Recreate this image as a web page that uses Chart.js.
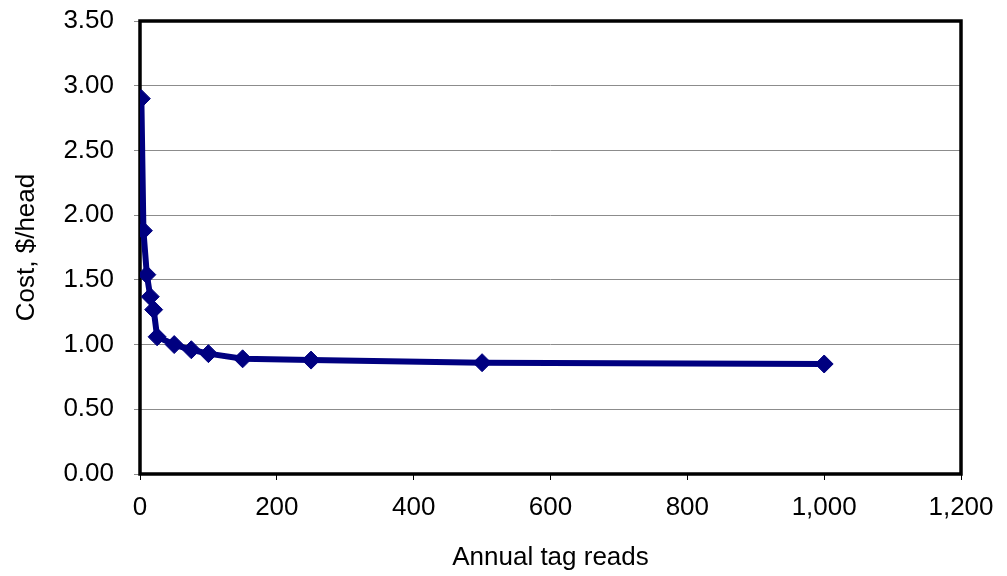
<!DOCTYPE html>
<html>
<head>
<meta charset="utf-8">
<script src="https://cdn.jsdelivr.net/npm/chart.js@4/dist/chart.umd.min.js"></script>
<style>
html,body{margin:0;padding:0;background:#fff;}
#wrap{width:1007px;height:576px;position:relative;}
</style>
</head>
<body>
<div id="wrap"><canvas id="c" width="1007" height="576"></canvas></div>
<script>
const reads = [2, 5, 10, 15, 20, 25, 50, 75, 100, 150, 250, 500, 1000];
const cost = [2.90, 1.88, 1.54, 1.37, 1.27, 1.06, 1.00, 0.96, 0.93, 0.89, 0.88, 0.86, 0.85];
const xTitle = 'Annual tag reads';
const yTitle = 'Cost, $/head';

const FONT = 'Liberation Sans, Arial, sans-serif';

const borderPlugin = {
  id: 'plotBorder',
  beforeDatasetsDraw(chart) {
    const {ctx, chartArea: a} = chart;
    ctx.save();
    ctx.strokeStyle = '#000';
    ctx.lineWidth = 3.5;
    ctx.strokeRect(a.left, a.top, a.right - a.left, a.bottom - a.top);
    ctx.restore();
  }
};

new Chart(document.getElementById('c'), {
  type: 'line',
  data: {
    datasets: [{
      data: reads.map((x, i) => ({x: x, y: cost[i]})),
      borderColor: '#000080',
      backgroundColor: '#000080',
      borderWidth: 6,
      pointStyle: 'rectRot',
      pointRadius: 9,
      pointBorderWidth: 1,
      pointBackgroundColor: '#000080',
      pointBorderColor: '#000080',
      tension: 0,
      fill: false
    }]
  },
  options: {
    responsive: false,
    animation: false,
    devicePixelRatio: 1,
    layout: {padding: {top: 21, right: 46, left: 0, bottom: 0}},
    plugins: {legend: {display: false}, tooltip: {enabled: false}},
    scales: {
      x: {
        type: 'linear',
        min: 0, max: 1200,
        afterFit(s) { s.height = 102; s.paddingRight = 0; s.paddingLeft = 0; },
        grid: {drawOnChartArea: false, drawTicks: true, tickLength: 6, color: '#000'},
        border: {display: false},
        ticks: {
          stepSize: 200,
          padding: 12,
          color: '#000',
          font: {family: FONT, size: 26},
          maxRotation: 0,
          callback: v => v.toLocaleString('en-US')
        },
        title: {display: true, text: xTitle, color: '#000', font: {family: FONT, size: 26}, padding: {top: 4, bottom: 3}}
      },
      y: {
        min: 0, max: 3.5,
        afterFit(s) { s.width = 140; s.paddingTop = 0; s.paddingBottom = 0; },
        grid: {color: '#8c8c8c', lineWidth: 1, drawTicks: true, tickLength: 6},
        border: {display: false},
        ticks: {
          stepSize: 0.5,
          padding: 20,
          color: '#000',
          font: {family: FONT, size: 26},
          callback: v => Number(v).toFixed(2)
        },
        title: {display: true, text: yTitle, color: '#000', font: {family: FONT, size: 26}, padding: {top: 11, bottom: 4}}
      }
    }
  },
  plugins: [borderPlugin]
});
</script>
</body>
</html>
